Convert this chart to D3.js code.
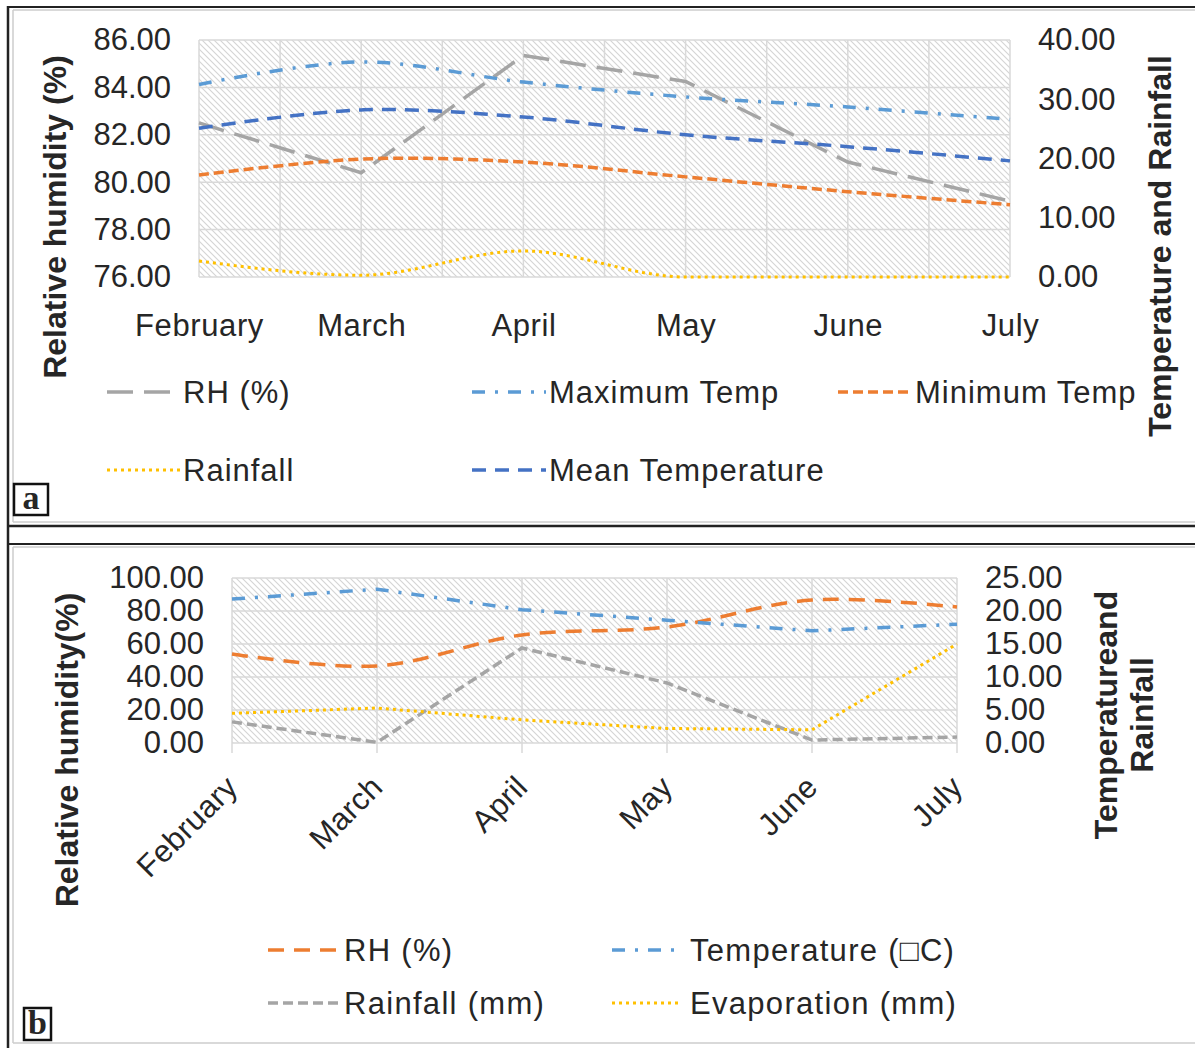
<!DOCTYPE html>
<html>
<head>
<meta charset="utf-8">
<script src="https://cdn.jsdelivr.net/npm/d3@7"></script>
<style>
  body { margin: 0; background: #fff; }
  svg text { font-family: "Liberation Sans", Arial, sans-serif; fill: #262626; }
</style>
</head>
<body>
<script>
// Categories
const months = ["February", "March", "April", "May", "June", "July"];

// Panel a values
const rhA = [82.5, 80.4, 85.35, 84.25, 80.85, 79.2];
const maxTempA = [32.5, 36.3, 32.9, 30.4, 28.7, 26.6];
const minTempA = [17.2, 19.9, 19.4, 16.9, 14.4, 12.2];
const rainA = [2.7, 0.3, 4.4, 0.0, 0.0, 0.0];
const meanTempA = [25.1, 28.2, 27.0, 24.0, 22.0, 19.6];

// Panel b values
const rhB = [54.0, 46.7, 65.5, 70.3, 86.7, 82.4];
const tempB = [21.8, 23.3, 20.2, 18.6, 17.0, 18.0];
const rainB = [3.2, 0.1, 14.4, 9.1, 0.45, 0.9];
const evapB = [4.5, 5.3, 3.5, 2.2, 2.0, 15.0];

// Tick labels
const leftTicksA = [76, 78, 80, 82, 84, 86];
const rightTicksA = [0, 10, 20, 30, 40];
const leftTicksB = [0, 20, 40, 60, 80, 100];
const rightTicksB = [0, 5, 10, 15, 20, 25];

const fmt = d3.format(".2f");

let svg = d3.select("body")
  .append("svg")
    .attr("width", 1195)
    .attr("height", 1048);

// hatch background
let pat = svg.append("defs").append("pattern")
  .attr("id", "hatch")
  .attr("patternUnits", "userSpaceOnUse")
  .attr("width", 6).attr("height", 6);
pat.append("rect").attr("width", 6).attr("height", 6).attr("fill", "#fff");
pat.append("path")
  .attr("d", "M0,0L6,6M-3,3L3,9M3,-3L9,3")
  .attr("stroke", "#d4d4d4").attr("stroke-width", 1.1);

// Frames
function line(x1, y1, x2, y2, color, w) {
  svg.append("line")
    .attr("x1", x1).attr("y1", y1).attr("x2", x2).attr("y2", y2)
    .attr("stroke", color).attr("stroke-width", w);
}
line(8, 7, 1195, 7, "#222", 2);
line(8, 6, 8, 1048, "#222", 2.5);
line(8, 526, 1195, 526, "#222", 2.5);
line(8, 544, 1195, 544, "#222", 2);
line(13, 10, 1195, 10, "#ccc", 1.5);
line(13, 10, 13, 522, "#ccc", 1.5);
line(13, 522, 1195, 522, "#ccc", 1.5);
line(13, 547, 1195, 547, "#ccc", 1.5);
line(13, 547, 13, 1043, "#ccc", 1.5);
line(13, 1043, 1195, 1043, "#ccc", 1.5);

function drawPanel(cfg) {
  let g = svg.append("g");
  let [x0, x1] = cfg.xRange;
  let [yb, yt] = cfg.yRange;

  let x = d3.scalePoint().domain(months).range([x0, x1]);
  let yL = d3.scaleLinear().domain(cfg.leftDomain).range([yb, yt]);
  let yR = d3.scaleLinear().domain(cfg.rightDomain).range([yb, yt]);

  g.append("rect")
    .attr("x", x0).attr("y", yt)
    .attr("width", x1 - x0).attr("height", yb - yt)
    .attr("fill", "url(#hatch)");

  // horizontal gridlines
  g.selectAll(".hgrid")
    .data(cfg.leftTicks).enter()
    .append("line")
      .attr("x1", x0).attr("x2", x1)
      .attr("y1", (d) => yL(d)).attr("y2", (d) => yL(d))
      .attr("stroke", "#d9d9d9").attr("stroke-width", 1.5);

  // vertical gridlines
  let vx = [];
  if (cfg.halfGrid) {
    let step = x.step() / 2;
    for (let i = 0; i <= 2 * (months.length - 1); i++) vx.push(x0 + i * step);
  } else {
    vx = months.map((m) => x(m));
  }
  g.selectAll(".vgrid")
    .data(vx).enter()
    .append("line")
      .attr("x1", (d) => d).attr("x2", (d) => d)
      .attr("y1", yt).attr("y2", yb + cfg.tickDown)
      .attr("stroke", "#d9d9d9").attr("stroke-width", 1.5);

  // left axis
  let ax = g.append("g")
    .attr("transform", "translate(" + x0 + ",0)")
    .call(d3.axisLeft(yL).tickValues(cfg.leftTicks).tickSize(0).tickPadding(28).tickFormat(fmt));
  ax.select(".domain").remove();
  ax.selectAll("text").style("font-size", "31px").attr("fill", "#262626");

  // right axis
  let axr = g.append("g")
    .attr("transform", "translate(" + x1 + ",0)")
    .call(d3.axisRight(yR).tickValues(cfg.rightTicks).tickSize(0).tickPadding(28).tickFormat(fmt));
  axr.select(".domain").remove();
  axr.selectAll("text").style("font-size", "31px").attr("fill", "#262626");

  // category axis
  let axb = g.append("g")
    .attr("transform", "translate(0," + yb + ")")
    .call(d3.axisBottom(x).tickSize(0).tickPadding(37));
  axb.select(".domain").remove();
  axb.selectAll("text")
    .style("font-size", "31px")
    .style("letter-spacing", cfg.catSpacing)
    .attr("fill", "#262626");
  if (cfg.rotateLabels) {
    axb.selectAll("text")
      .attr("y", 0).attr("dy", 0)
      .attr("text-anchor", "end")
      .attr("transform", "translate(7,46) rotate(-45)");
  }

  // series
  cfg.series.forEach((s) => {
    let yS = s.axis === "left" ? yL : yR;
    let curve = d3.curveLinear;
    if (s.smooth === "cr") curve = d3.curveCatmullRom.alpha(0.5);
    if (s.smooth === "mono") curve = d3.curveMonotoneX;
    let gen = d3.line()
      .x((d, i) => x(months[i]))
      .y((d) => yS(d))
      .curve(curve);
    g.append("path")
      .datum(s.values)
      .attr("d", gen)
      .attr("fill", "none")
      .attr("stroke", s.color)
      .attr("stroke-width", s.width)
      .attr("stroke-dasharray", s.dash);
  });

  // legend
  cfg.legend.forEach((l) => {
    let s = cfg.series[l.idx];
    g.append("line")
      .attr("x1", l.x).attr("x2", l.x + l.len)
      .attr("y1", l.y).attr("y2", l.y)
      .attr("stroke", s.color).attr("stroke-width", s.width)
      .attr("stroke-dasharray", s.dash);
    g.append("text")
      .attr("x", l.tx).attr("y", l.y)
      .attr("dy", "0.36em")
      .style("font-size", "31px")
      .style("letter-spacing", cfg.legendSpacing)
      .text(s.name);
  });

  // titles
  cfg.titles.forEach((t) => {
    g.append("text")
      .attr("transform", "translate(" + t.x + "," + t.y + ") rotate(-90)")
      .attr("text-anchor", "middle")
      .attr("dy", "0.36em")
      .style("font-size", "32px")
      .style("font-weight", "bold")
      .attr("fill", "#000")
      .text(t.text);
  });

  // panel letter
  g.append("rect")
    .attr("x", cfg.letter.x).attr("y", cfg.letter.y)
    .attr("width", cfg.letter.w).attr("height", cfg.letter.h)
    .attr("fill", "#fff").attr("stroke", "#111").attr("stroke-width", 2.5);
  g.append("text")
    .attr("x", cfg.letter.x + cfg.letter.w / 2)
    .attr("y", cfg.letter.y + cfg.letter.h - 6)
    .attr("text-anchor", "middle")
    .style("font-family", "'Liberation Serif', 'Times New Roman', serif")
    .style("font-weight", "bold")
    .style("font-size", "34px")
    .attr("fill", "#000")
    .text(cfg.letter.text);
}

// Panel a
drawPanel({
  xRange: [199, 1010], yRange: [277, 40],
  leftDomain: [76, 86], rightDomain: [0, 40],
  leftTicks: leftTicksA, rightTicks: rightTicksA,
  halfGrid: true, tickDown: 0, rotateLabels: false,
  catSpacing: "0.6px", legendSpacing: "1px",
  series: [
    { name: "RH (%)", values: rhA, axis: "left", color: "#a5a5a5", width: 3.5, dash: "26,11", smooth: "" },
    { name: "Maximum Temp", values: maxTempA, axis: "right", color: "#5b9bd5", width: 3.5, dash: "13,10,3,10", smooth: "cr" },
    { name: "Minimum Temp", values: minTempA, axis: "right", color: "#ed7d31", width: 3.5, dash: "10,5", smooth: "cr" },
    { name: "Rainfall", values: rainA, axis: "right", color: "#ffc000", width: 3, dash: "3,4", smooth: "mono" },
    { name: "Mean Temperature", values: meanTempA, axis: "right", color: "#4472c4", width: 3.5, dash: "14,9", smooth: "cr" }
  ],
  legend: [
    { idx: 0, x: 107, y: 392, len: 74, tx: 183 },
    { idx: 1, x: 472, y: 392, len: 74, tx: 549 },
    { idx: 2, x: 838, y: 392, len: 74, tx: 915 },
    { idx: 3, x: 107, y: 470, len: 74, tx: 183 },
    { idx: 4, x: 472, y: 470, len: 74, tx: 549 }
  ],
  titles: [
    { text: "Relative humidity (%)", x: 54, y: 217 },
    { text: "Temperature and Rainfall", x: 1159, y: 246 }
  ],
  letter: { x: 14, y: 484, w: 34, h: 31, text: "a" }
});

// Panel b
drawPanel({
  xRange: [232, 957], yRange: [743, 578],
  leftDomain: [0, 100], rightDomain: [0, 25],
  leftTicks: leftTicksB, rightTicks: rightTicksB,
  halfGrid: false, tickDown: 10, rotateLabels: true,
  catSpacing: "0.4px", legendSpacing: "1.3px",
  series: [
    { name: "RH (%)", values: rhB, axis: "left", color: "#ed7d31", width: 3.5, dash: "16,10", smooth: "cr" },
    { name: "Temperature (\u25A1C)", values: tempB, axis: "right", color: "#5b9bd5", width: 3.5, dash: "13,10,3,10", smooth: "" },
    { name: "Rainfall (mm)", values: rainB, axis: "right", color: "#a5a5a5", width: 3.5, dash: "10,5", smooth: "" },
    { name: "Evaporation (mm)", values: evapB, axis: "right", color: "#ffc000", width: 3, dash: "3,4", smooth: "" }
  ],
  legend: [
    { idx: 0, x: 268, y: 950, len: 70, tx: 344 },
    { idx: 1, x: 612, y: 950, len: 64, tx: 690 },
    { idx: 2, x: 268, y: 1003, len: 70, tx: 344 },
    { idx: 3, x: 612, y: 1003, len: 70, tx: 690 }
  ],
  titles: [
    { text: "Relative humidity(%)", x: 66, y: 750 },
    { text: "Temperatureand", x: 1105, y: 715 },
    { text: "Rainfall", x: 1141, y: 715 }
  ],
  letter: { x: 24, y: 1008, w: 27, h: 32, text: "b" }
});
</script>
</body>
</html>
